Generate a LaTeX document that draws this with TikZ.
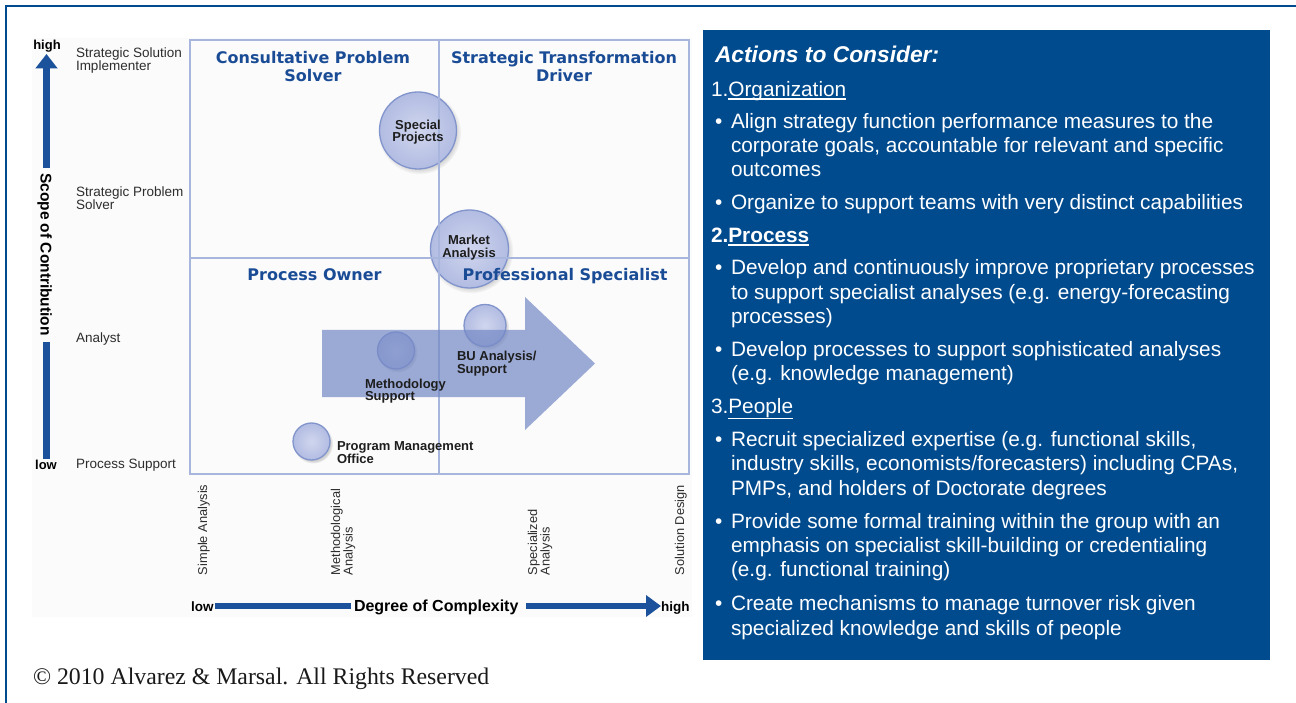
\documentclass[tikz,border=0pt]{standalone}
\usepackage{fontspec}
\setmainfont{Liberation Sans}
\newfontfamily\verdfont{DejaVu Sans}
\newfontfamily\timesfont{Liberation Serif}
\usetikzlibrary{arrows.meta,shadows}
\definecolor{frameblue}{RGB}{0,75,142}
\definecolor{axisblue}{RGB}{28,82,155}
\definecolor{gridcol}{RGB}{168,182,222}
\definecolor{titleblue}{RGB}{26,76,150}
\definecolor{bubin}{RGB}{208,214,238}
\definecolor{bubout}{RGB}{178,188,226}
\definecolor{bubline}{RGB}{130,148,204}
\definecolor{arrowcol}{RGB}{118,138,198}
\definecolor{labcol}{RGB}{30,30,30}
\definecolor{axcol}{RGB}{45,45,45}
\definecolor{chartbg}{RGB}{251,251,252}
\newcommand{\fsz}[1]{\fontsize{#1}{#1}\selectfont}
\begin{document}
\begin{tikzpicture}[x=1pt,y=-1pt,
  lbl/.style={inner sep=0pt, outer sep=0pt, anchor=base west},
  ylab/.style={lbl, text=axcol, font=\fsz{13.5}},
  xlab/.style={lbl, text=axcol, font=\fsz{12.8}, rotate=90},
  qtitle/.style={inner sep=0pt, outer sep=0pt, anchor=base, text=titleblue, font=\verdfont\bfseries\fsz{16}},
  blab/.style={lbl, text=labcol, font=\bfseries\fsz{13}},
  blabc/.style={blab, anchor=base},
  bubble/.style={circle, inner sep=0pt, draw=bubline, line width=1.3pt, inner color=bubin, outer color=bubout,
    circular drop shadow={shadow scale=1.08, shadow xshift=1.5pt, shadow yshift=-2pt, opacity=0.35}},
  gridline/.style={draw=gridcol, line width=1.8pt},
  axbar/.style={draw=axisblue, line width=7pt},
  pl/.style={lbl, text=white, font=\fsz{20.8}},
  pb/.style={lbl, text=white, font=\fsz{20.8}},
  ph/.style={lbl, text=white, font=\bfseries\fsz{20.8}},
  uline/.style={draw=white, line width=1.3pt}
]
\useasboundingbox (0,0) rectangle (1296,703);
% frame
\draw[frameblue, line width=2.5pt] (6,704) -- (6,6) -- (1297,6);
% chart background
\fill[chartbg] (32,38) rectangle (692,617);

% bubbles
\node[bubble, minimum size=77pt] (sp) at (418,130.5) {};
\node[bubble, minimum size=78pt] (ma) at (469.5,249) {};
\node[bubble, minimum size=42pt] (bu) at (485,325.5) {};
\node[bubble, minimum size=37pt] (me) at (396,350.5) {};
\node[bubble, minimum size=37pt] (pm) at (311.5,441.5) {};

% grid
\draw[gridline] (190,40) rectangle (689,474);
\draw[gridline] (439,40) -- (439,474);
\draw[gridline] (190,258) -- (689,258);

% quadrant titles
\node[qtitle] (q1a) at (313,63.3) {Consultative Problem};
\node[qtitle] (q1b) at (313,81.7) {Solver};
\node[qtitle] (q2a) at (564,63.3) {Strategic Transformation};
\node[qtitle] (q2b) at (564,81.7) {Driver};
\node[qtitle] (q3) at (314.5,280.7) {Process Owner};
\node[qtitle] (q4) at (565,280.7) {Professional Specialist};

% big arrow
\fill[arrowcol, opacity=0.72] (322,330) -- (525,330) -- (525,297) -- (595,363.5) -- (525,430) -- (525,397) -- (322,397) -- cycle;

% bubble labels
\node[blabc] (spa) at (418,129.3) {Special};
\node[blabc] (spb) at (418,141.7) {Projects};
\node[blabc] (maa) at (469,245) {Market};
\node[blabc] (mab) at (469,258) {Analysis};
\node[blab] (bua) at (457,360) {BU Analysis/};
\node[blab] (bub) at (457,373.3) {Support};
\node[blab] (mea) at (365,388.3) {Methodology};
\node[blab] (meb) at (365,400.7) {Support};
\node[blab] (pma) at (337,450) {Program Management};
\node[blab] (pmb) at (337,463.3) {Office};

% y axis
\node[lbl, anchor=base, font=\bfseries\fsz{13}, text=black] (yhigh) at (47,49.3) {high};
\node[lbl, anchor=base, font=\bfseries\fsz{13}, text=black] (ylow) at (46,469.3) {low};
\node[lbl, anchor=base, rotate=-90, font=\bfseries\fsz{15.5}, text=black] (scope) at (40.5,254.5) {Scope of Contribution};
\coordinate (vtip) at (46.5,54);
\draw[axbar, -{Triangle[width=21.5pt,length=14.5pt]}] (46.5,168) -- (vtip);
\draw[axbar] (46.5,342) -- (46.5,459);

\node[ylab] (y1a) at (76,57.3) {Strategic Solution};
\node[ylab] (y1b) at (76,70.7) {Implementer};
\node[ylab] (y2a) at (76,196.7) {Strategic Problem};
\node[ylab] (y2b) at (76,209.3) {Solver};
\node[ylab] (y3) at (76,342.7) {Analyst};
\node[ylab] (y4) at (76,468.3) {Process Support};

% x axis labels
\node[xlab] (x1) at (207,575) {Simple Analysis};
\node[xlab] (x2a) at (340,575) {Methodological};
\node[xlab] (x2b) at (352.5,575) {Analysis};
\node[xlab] (x3a) at (537,575) {Specialized};
\node[xlab] (x3b) at (549.5,575) {Analysis};
\node[xlab] (x4) at (684,575) {Solution Design};

% x axis arrow
\node[lbl, font=\bfseries\fsz{13.5}, text=black] (xlow) at (191,611) {low};
\node[lbl, font=\bfseries\fsz{16}, text=black] (deg) at (354,611.5) {Degree of Complexity};
\node[lbl, anchor=base east, font=\bfseries\fsz{13.5}, text=black] (xhigh) at (689.5,611) {high};
\coordinate (htip) at (661,606);
\draw[draw=axisblue, line width=6pt] (215,606) -- (351,606);
\draw[draw=axisblue, line width=6pt, -{Triangle[width=21pt,length=15pt]}] (526,606) -- (htip);

% copyright
\node[lbl, font=\timesfont\fsz{23.8}, text=black!90] (copy) at (33,684) {© 2010 Alvarez \& Marsal. All Rights Reserved};

% right panel
\fill[frameblue] (703,30) rectangle (1270,660);
\node[lbl, text=white, font=\bfseries\itshape\fsz{22.8}] (act) at (715,62.7) {Actions to Consider:};

\node[pl] (n1) at (711,96.7) {1.};
\node[pl] (n1w) at (n1.base east) {Organization};
\draw[uline] ([yshift=-2.2pt]n1w.base west) -- ([yshift=-2.2pt]n1w.base east);

\node[pb] (b1) at (715,128.3) {•};
\node[pl] (t1a) at (731,128.3) {Align strategy function performance measures to the};
\node[pl] (t1b) at (731,152.7) {corporate goals, accountable for relevant and specific};
\node[pl] (t1c) at (731,176.7) {outcomes};
\node[pb] (b2) at (715,210) {•};
\node[pl] (t2a) at (731,210) {Organize to support teams with very distinct capabilities};

\node[ph] (n2) at (711,242.7) {2.};
\node[ph] (n2w) at (n2.base east) {Process};
\draw[uline, line width=1.6pt] ([yshift=-2.4pt]n2w.base west) -- ([yshift=-2.4pt]n2w.base east);

\node[pb] (b3) at (715,275) {•};
\node[pl] (t3a) at (731,275) {Develop and continuously improve proprietary processes};
\node[pl] (t3b) at (731,299.3) {to support specialist analyses (e.g. energy-forecasting};
\node[pl] (t3c) at (731,323.3) {processes)};
\node[pb] (b4) at (715,356.7) {•};
\node[pl] (t4a) at (731,356.7) {Develop processes to support sophisticated analyses};
\node[pl] (t4b) at (731,380.7) {(e.g. knowledge management)};

\node[pl] (n3) at (711,413.3) {3.};
\node[pl] (n3w) at (n3.base east) {People};
\draw[uline] ([yshift=-5.5pt]n3w.base west) -- ([yshift=-5.5pt]n3w.base east);

\node[pb] (b5) at (715,446.7) {•};
\node[pl] (t5a) at (731,446.7) {Recruit specialized expertise (e.g. functional skills,};
\node[pl] (t5b) at (731,470.7) {industry skills, economists/forecasters) including CPAs,};
\node[pl] (t5c) at (731,495) {PMPs, and holders of Doctorate degrees};
\node[pb] (b6) at (715,528.3) {•};
\node[pl] (t6a) at (731,528.3) {Provide some formal training within the group with an};
\node[pl] (t6b) at (731,552.7) {emphasis on specialist skill-building or credentialing};
\node[pl] (t6c) at (731,576.7) {(e.g. functional training)};
\node[pb] (b7) at (715,610) {•};
\node[pl] (t7a) at (731,610) {Create mechanisms to manage turnover risk given};
\node[pl] (t7b) at (731,635) {specialized knowledge and skills of people};
\end{tikzpicture}
\end{document}
